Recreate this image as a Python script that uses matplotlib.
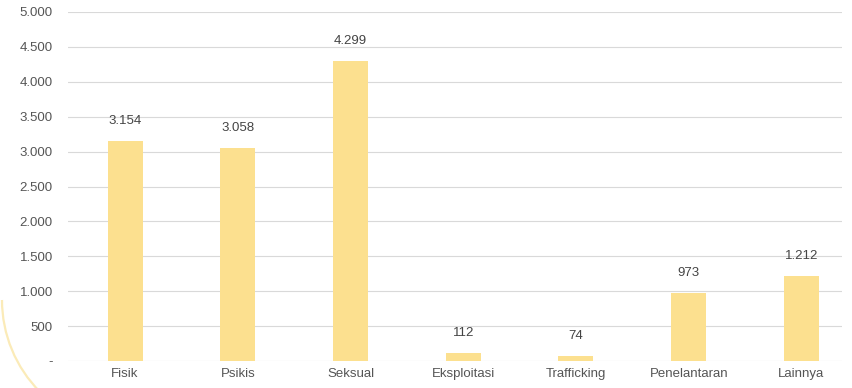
import matplotlib.pyplot as plt
from matplotlib.ticker import FuncFormatter
from matplotlib.patches import Arc

# data
categories = ['Fisik', 'Psikis', 'Seksual', 'Eksploitasi', 'Trafficking', 'Penelantaran', 'Lainnya']
values = [3154, 3058, 4299, 112, 74, 973, 1212]
yticks = [0, 500, 1000, 1500, 2000, 2500, 3000, 3500, 4000, 4500, 5000]

def fmt(v):
    # Indonesian style thousands separator, zero shown as dash
    if v == 0:
        return '-'
    return '{:,.0f}'.format(v).replace(',', '.')

plt.rcParams['font.family'] = ['Liberation Sans', 'DejaVu Sans']
txtc = '#555555'

W, H = 852, 388
fig = plt.figure(figsize=(W / 100, H / 100), dpi=100)

# faint decorative arc at the bottom-left corner
r = 130
arc = Arc(((2 + r) / W, 1 - 300 / H), 2 * r / W, 2 * r / H, theta1=180, theta2=270,
          transform=fig.transFigure, edgecolor='#FBEBB8', linewidth=1.6)
fig.patches.append(arc)

ax = fig.add_axes([68 / W, 1 - 361 / H, 774 / W, 349 / H])
ax.patch.set_alpha(0)

x = range(len(categories))
ax.bar(x, values, width=0.31, color='#FCE08F', zorder=2)
for xi, v in zip(x, values):
    ax.text(xi, v + 200, fmt(v), ha='center', va='bottom', fontsize=9.5, color='#444444')

ax.set_ylim(0, 5000)
ax.set_xlim(-0.506, 6.36)
ax.set_yticks(yticks)
ax.yaxis.set_major_formatter(FuncFormatter(lambda v, p: fmt(v)))
ax.set_xticks(list(x))
ax.set_xticklabels(categories)
ax.grid(axis='y', color='#d9d9d9', linewidth=0.8, zorder=0)
for s in ax.spines.values():
    s.set_visible(False)
ax.tick_params(length=0, labelsize=9.5, colors=txtc)
ax.tick_params(axis='y', pad=11)
ax.tick_params(axis='x', pad=5)

fig.savefig('out.png', dpi=100)
